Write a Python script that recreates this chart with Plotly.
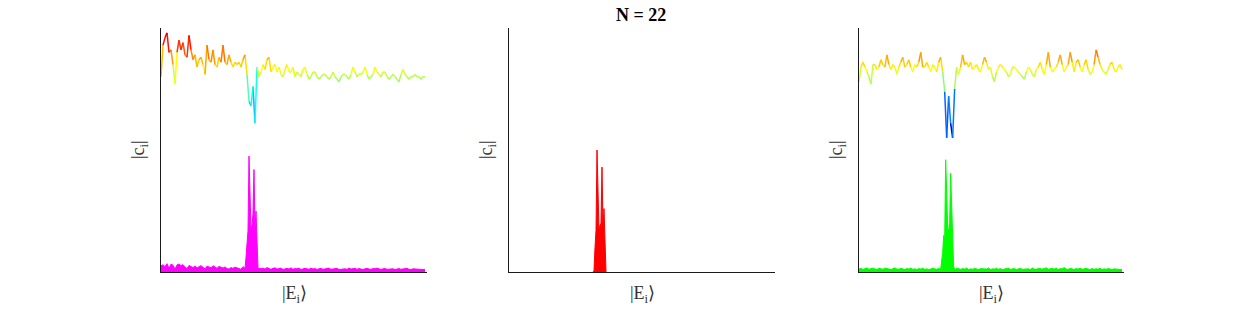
import plotly.graph_objects as go

# ---------------- data ----------------
# state index positions of the sampled amplitude curves (step 2)
state_idx = list(range(0, 266, 2))

# upper curves (coloured by value)
top_left = [80, 93, 96, 98, 90, 91, 85, 77, 90, 95, 91, 94, 89, 88, 97, 91, 87, 89, 84, 87,
            88, 85, 81, 93, 87, 86, 91, 85, 84, 88, 86, 93, 86, 85, 89, 86, 84, 86, 85, 86,
            84, 87, 89, 81, 70, 68, 76, 61, 84, 80, 82, 85, 83, 87, 88, 82, 84, 85, 82, 84,
            81, 80, 83, 85, 82, 82, 84, 80, 82, 81, 80, 83, 84, 81, 79, 80, 82, 82, 80, 79,
            80, 81, 81, 80, 79, 80, 82, 80, 79, 78, 80, 81, 81, 80, 79, 81, 84, 82, 80, 81,
            81, 82, 84, 81, 79, 80, 81, 84, 82, 81, 80, 82, 82, 80, 79, 80, 81, 80, 79, 78,
            81, 83, 81, 80, 79, 80, 80, 81, 80, 80, 79, 80, 80]
top_right = [78, 84, 86, 84, 82, 80, 77, 85, 85, 83, 84, 87, 85, 84, 89, 85, 83, 85, 84, 81,
             84, 86, 88, 84, 85, 87, 84, 82, 85, 84, 86, 90, 84, 84, 86, 84, 82, 85, 84, 82,
             86, 88, 82, 74, 55, 72, 61, 55, 75, 84, 81, 84, 89, 85, 86, 84, 86, 83, 84, 85,
             83, 82, 85, 88, 86, 83, 84, 80, 78, 82, 84, 85, 84, 83, 82, 80, 81, 84, 84, 83,
             82, 81, 80, 79, 82, 84, 83, 81, 80, 83, 84, 86, 83, 81, 85, 90, 84, 82, 83, 84,
             86, 89, 85, 82, 84, 85, 90, 86, 82, 86, 87, 84, 82, 85, 87, 83, 81, 82, 85, 91,
             88, 85, 83, 82, 81, 83, 85, 86, 83, 82, 84, 85, 83]

# lower curves: background level (step 2) and the resolved peak (step 1)
noise_left = [2.5, 3.0, 2.2, 3.4, 1.5, 3.2, 2.8, 1.2, 2.9, 3.3, 2.6, 3.0, 2.1, 1.4, 2.7, 2.3,
              1.8, 2.5, 1.6, 2.2, 2.6, 1.9, 1.3, 2.4, 2.1, 1.7, 2.6, 2.0, 1.5, 2.3, 1.9, 1.6,
              2.1, 1.4, 1.2, 1.8, 1.5, 2.0, 1.7, 1.4, 1.1, 2.2, 1.8, 1.5, 1.5, 1.5, 1.5, 1.5,
              1.5, 1.5, 1.3, 1.6, 1.2, 1.8, 1.4, 1.1, 1.5, 1.7, 1.2, 1.4, 1.6, 1.0, 1.3, 1.5,
              1.2, 1.7, 1.1, 1.4, 1.3, 1.6, 1.0, 1.2, 1.5, 1.3, 1.1, 1.6, 1.2, 1.4, 1.0, 1.3,
              1.5, 1.1, 1.2, 1.4, 1.6, 1.1, 1.3, 1.2, 1.5, 1.0, 1.2, 1.4, 1.3, 1.1, 1.6, 1.2,
              1.3, 1.5, 1.1, 1.4, 1.2, 1.0, 1.3, 1.5, 1.2, 1.1, 1.4, 1.3, 1.6, 1.2, 1.0, 1.3,
              1.4, 1.1, 1.2, 1.5, 1.3, 1.0, 1.2, 1.4, 1.1, 1.3, 1.2, 1.5, 1.1, 1.0, 1.3, 1.2,
              1.4, 1.1, 1.2, 1.0, 1.1]
noise_mid = [0.0] * len(state_idx)
noise_right = [1.2, 1.5, 1.0, 1.4, 1.7, 1.1, 1.3, 1.6, 1.2, 1.0, 1.5, 1.3, 1.1, 1.6, 1.4, 1.2,
               1.0, 1.3, 1.7, 1.2, 1.1, 1.5, 1.3, 1.0, 1.4, 1.2, 1.6, 1.1, 1.3, 1.0, 1.4, 1.2,
               1.5, 1.1, 1.3, 1.0, 1.2, 1.6, 1.3, 1.1, 1.4, 1.2, 1.8, 1.5, 1.5, 1.5, 1.5, 1.5,
               1.5, 1.5, 1.3, 1.1, 1.4, 1.2, 1.6, 1.0, 1.3, 1.1, 1.5, 1.2, 1.0, 1.4, 1.3, 1.1,
               1.2, 1.6, 1.0, 1.3, 1.2, 1.5, 1.1, 1.4, 1.0, 1.2, 1.3, 1.6, 1.1, 1.2, 1.4, 1.0,
               1.3, 1.5, 1.1, 1.2, 1.4, 1.3, 1.0, 1.6, 1.2, 1.1, 1.5, 1.3, 1.2, 1.4, 1.7, 1.1,
               1.3, 1.5, 1.2, 1.6, 1.0, 1.4, 1.3, 1.8, 1.2, 1.1, 1.5, 1.3, 1.0, 1.4, 1.2, 1.6,
               1.1, 1.3, 1.5, 1.2, 1.0, 1.4, 1.1, 1.3, 1.2, 1.5, 1.0, 1.3, 1.1, 1.4, 1.2, 1.0,
               1.3, 1.1, 1.2, 1.0, 1.1]

peak_idx = list(range(84, 98))
peak_left = [1.5, 6, 11, 17, 47.5, 35, 17, 19, 24, 42, 18, 25, 15, 1.5]
peak_mid = [0, 0.5, 10, 17, 50, 35, 17, 19, 20, 43, 18, 26, 12, 0]
peak_right = [8, 15, 13, 46, 33, 18, 17, 20, 40.5, 24, 10, 2, 1.5, 1.0]

title_text = "N = 22"
ylabel = "|c<sub>i</sub>|"
xlabel = "|E<sub>i</sub>\u27e9"

# ---------------- styling ----------------
W, H = 1240, 310
domains_px = [(161, 427), (509, 775), (859, 1124)]
ytop_px, ybot_px = 28, 272
CMIN, CMAX = 54, 101
N_BINS = 60
serif = "Liberation Serif"


def jet(t):
    t = min(max(t, 0.0), 1.0)
    def c(v):
        return int(round(255 * min(max(v, 0.0), 1.0)))
    return "rgb(%d,%d,%d)" % (c(1.5 - abs(4 * t - 3)), c(1.5 - abs(4 * t - 2)), c(1.5 - abs(4 * t - 1)))


def merge(noise, peak):
    pts = [(x, v) for x, v in zip(state_idx, noise) if not (peak_idx[0] <= x <= peak_idx[-1])]
    pts += list(zip(peak_idx, peak))
    pts.sort()
    return [p[0] for p in pts], [p[1] for p in pts]


fig = go.Figure()
panels = [
    (top_left, noise_left, peak_left, "#ff00ff"),
    (None, noise_mid, peak_mid, "#ff0000"),
    (top_right, noise_right, peak_right, "#00ff00"),
]

for k, (top, noise, peak, col) in enumerate(panels):
    xa = "x" if k == 0 else "x%d" % (k + 1)
    ya = "y" if k == 0 else "y%d" % (k + 1)
    bx, by = merge(noise, peak)
    if k == 1:
        bx = peak_idx
        by = peak
    fig.add_trace(go.Scatter(x=bx, y=by, mode="lines", fill="tozeroy", fillcolor=col,
                             line=dict(color=col, width=1), xaxis=xa, yaxis=ya,
                             showlegend=False, hoverinfo="skip"))
    if top is not None:
        bins = {}
        for i in range(len(top) - 1):
            m = 0.5 * (top[i] + top[i + 1])
            b = int(min(max((m - CMIN) / (CMAX - CMIN), 0), 0.9999) * N_BINS)
            bins.setdefault(b, ([], []))
            bins[b][0].extend([state_idx[i], state_idx[i + 1], None])
            bins[b][1].extend([top[i], top[i + 1], None])
        for b, (xs, ys) in sorted(bins.items()):
            fig.add_trace(go.Scatter(x=xs, y=ys, mode="lines",
                                     line=dict(color=jet((b + 0.5) / N_BINS), width=1.5),
                                     xaxis=xa, yaxis=ya, showlegend=False, hoverinfo="skip"))

layout = dict(width=W, height=H, margin=dict(l=0, r=0, t=0, b=0),
              paper_bgcolor="white", plot_bgcolor="white")
ydom = [1 - ybot_px / H, 1 - ytop_px / H]
annotations = []
for k, (l, r) in enumerate(domains_px):
    sfx = "" if k == 0 else str(k + 1)
    layout["xaxis" + sfx] = dict(domain=[l / W, r / W], range=[0, 266], showgrid=False,
                                 zeroline=False, showticklabels=False, ticks="",
                                 showline=True, linecolor="#1a1a1a", linewidth=1.2,
                                 anchor="y" + sfx, fixedrange=True)
    layout["yaxis" + sfx] = dict(domain=ydom, range=[0, 100], showgrid=False,
                                 zeroline=False, showticklabels=False, ticks="",
                                 showline=True, linecolor="#1a1a1a", linewidth=1.2,
                                 anchor="x" + sfx, fixedrange=True)
    cx = (l + r) / 2
    annotations.append(dict(text=xlabel, x=cx / W, y=1 - 294 / H, xref="paper", yref="paper",
                            showarrow=False, font=dict(family=serif, size=18, color="#333333"),
                            xanchor="center", yanchor="middle"))
    annotations.append(dict(text=ylabel, x=(l - 22) / W, y=1 - 150 / H, xref="paper",
                            yref="paper", showarrow=False, textangle=-90,
                            font=dict(family=serif, size=18, color="#333333"),
                            xanchor="center", yanchor="middle"))
annotations.append(dict(text="<b>%s</b>" % title_text, x=641 / W, y=1 - 15 / H, xref="paper",
                        yref="paper", showarrow=False,
                        font=dict(family=serif, size=18, color="black"),
                        xanchor="center", yanchor="middle"))
layout["annotations"] = annotations
fig.update_layout(**layout)
fig.write_html("out.html")
